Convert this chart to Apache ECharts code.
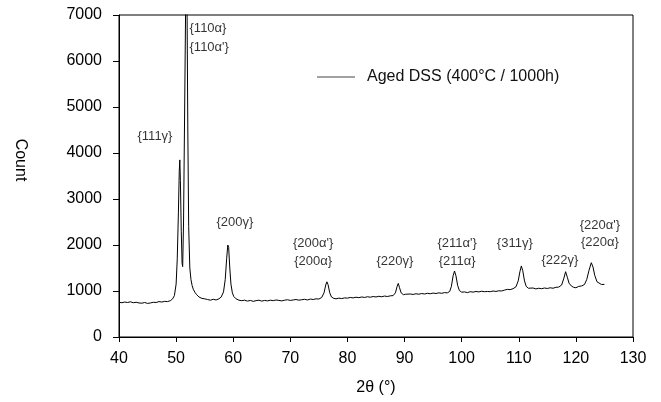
<!DOCTYPE html>
<html>
<head>
<meta charset="utf-8">
<script src="https://cdn.jsdelivr.net/npm/echarts@6/dist/echarts.min.js"></script>
<style>
html,body{margin:0;padding:0;background:#fff;}
#chart{width:661px;height:402px;}
</style>
</head>
<body>
<div id="chart"></div>
<script>
// 2θ (degrees)
var twoTheta = [
40.0,40.5,41.0,41.5,42.0,42.5,43.0,43.5,44.0,44.5,45.0,45.5,46.0,46.5,47.0,47.5,48.0,48.5,49.0,49.4,49.7,
50.0,50.2,50.4,50.55,50.65,50.75,50.9,51.05,51.15,51.3,51.5,51.7,51.8,51.9,52.05,52.2,52.4,52.6,52.8,53.0,53.3,53.6,54.0,54.5,
55.0,55.5,56.0,56.5,57.0,57.5,57.9,58.3,58.6,58.85,59.05,59.2,59.4,59.6,59.85,60.1,60.5,61.0,61.5,62.0,62.5,63.0,63.5,64.0,64.5,
65.0,65.5,66.0,66.5,67.0,67.5,68.0,68.5,69.0,69.5,70.0,70.5,71.0,71.5,72.0,72.5,73.0,73.5,74.0,74.5,75.0,75.5,75.9,76.2,76.4,76.6,76.9,
77.2,77.6,78.0,78.5,79.0,79.5,80.0,80.5,81.0,81.5,82.0,82.5,83.0,83.5,84.0,84.5,85.0,85.5,86.0,86.5,87.0,87.5,88.0,88.4,88.7,88.9,89.1,89.4,89.8,
90.2,90.5,91.0,91.5,92.0,92.5,93.0,93.5,94.0,94.5,95.0,95.5,96.0,96.5,97.0,97.5,97.9,98.2,98.5,98.75,99.0,99.3,99.6,
100.0,100.5,101.0,101.5,102.0,102.5,103.0,103.5,104.0,104.5,105.0,105.5,106.0,106.5,107.0,107.5,108.0,108.5,109.0,109.5,109.9,110.2,110.45,110.7,
111.0,111.3,111.7,112.0,112.5,113.0,113.5,114.0,114.5,115.0,115.5,116.0,116.5,117.0,117.5,117.9,118.2,118.5,118.8,119.2,119.6,
120.0,120.5,121.0,121.5,121.9,122.3,122.7,123.0,123.3,123.7,124.0,124.5,125.0
];
// Count
var counts = [
755,745,760,750,765,745,755,740,735,750,730,740,755,750,770,760,775,770,790,830,900,
1150,1700,2700,3600,3850,3400,2300,1600,1530,2500,5000,7600,8200,7500,4500,2400,1500,1250,1120,1040,970,920,870,840,
830,815,800,820,805,830,870,980,1250,1700,2000,1950,1500,1150,960,880,830,800,790,800,780,795,775,790,800,
780,795,785,800,790,805,795,785,800,810,795,805,815,800,810,820,805,825,815,830,825,860,960,1130,1200,1140,960,
870,840,830,845,835,850,845,860,850,865,855,870,860,875,865,880,870,885,875,890,880,895,900,960,1100,1165,1080,960,920,
930,915,935,925,940,930,945,935,950,940,955,945,960,950,965,960,990,1100,1330,1435,1330,1120,1010,
975,980,965,985,975,990,980,995,985,990,985,1000,990,1005,1000,1020,1035,1030,1050,1090,1220,1420,1545,1440,
1220,1100,1060,1050,1065,1045,1060,1050,1065,1055,1070,1060,1080,1085,1130,1280,1420,1300,1170,1110,1080,
1070,1100,1110,1140,1250,1450,1615,1520,1340,1200,1160,1140,1145
];
var xTicks = [40,50,60,70,80,90,100,110,120,130];
var yTicks = [0,1000,2000,3000,4000,5000,6000,7000];
var seriesName = 'Aged DSS (400°C / 1000h)';
// peak annotations: text, anchor 2θ, anchor count, alignment
var peakLabels = ['{111γ}','{110α}','{110α\'}','{200γ}','{200α\'}','{200α}','{220γ}','{211α\'}','{211α}','{311γ}','{222γ}','{220α\'}','{220α}'];
var peakLabelX = [46.3,52.35,52.35,60.3,74.0,74.0,88.3,99.2,99.2,109.3,117.2,124.2,124.2];
var peakLabelY = [4350,6710,6290,2480,2040,1650,1650,2040,1650,2040,1670,2430,2060];
var peakLabelAlign = ['center','left','left','center','center','center','center','center','center','center','center','center','center'];

var lineData = twoTheta.map(function(x,i){return [x,counts[i]];});
var annData = peakLabels.map(function(t,i){return {value:[peakLabelX[i],peakLabelY[i]],label:{formatter:t,align:peakLabelAlign[i]}};});

var chart = echarts.init(document.getElementById('chart'));
var font = '"Liberation Sans", Arial, sans-serif';
chart.setOption({
  animation:false,
  backgroundColor:'#fff',
  textStyle:{fontFamily:font,color:'#000'},
  grid:{left:119,top:15,right:28,bottom:65,show:true,borderColor:'#000',borderWidth:1},
  legend:{
    show:true,left:312,top:64,itemWidth:38,itemHeight:1,
    data:[{name:seriesName,icon:'rect'}],
    itemStyle:{color:'#444'},
    textStyle:{fontSize:16,fontFamily:font,color:'#111',padding:[0,0,0,7]}
  },
  xAxis:{
    type:'value',min:40,max:130,interval:10,
    name:'2θ (°)',nameLocation:'middle',nameGap:43,
    nameTextStyle:{fontSize:16,fontFamily:font,color:'#000'},
    axisLine:{show:true,onZero:false,lineStyle:{color:'#000',width:1}},
    axisTick:{show:true,length:5,inside:false,lineStyle:{color:'#000'}},
    axisLabel:{fontSize:16,color:'#000',margin:14,fontFamily:font,formatter:function(v){return String(v);}},
    splitLine:{show:false}
  },
  yAxis:{
    type:'value',min:0,max:7000,interval:1000,
    axisLine:{show:true,lineStyle:{color:'#000',width:1}},
    axisTick:{show:true,length:6,inside:false,lineStyle:{color:'#000'}},
    axisLabel:{fontSize:16,color:'#000',margin:17,fontFamily:font,formatter:function(v){return String(v);}},
    splitLine:{show:false}
  },
  graphic:[{
    type:'text',x:20,y:160,rotation:-Math.PI/2,
    style:{text:'Count',fontSize:16,fontFamily:font,fill:'#000',align:'center',verticalAlign:'middle'}
  }],
  series:[{
    name:seriesName,type:'line',data:lineData,symbol:'none',clip:true,
    lineStyle:{color:'#000',width:1},itemStyle:{color:'#000'}
  },{
    type:'scatter',data:annData,symbolSize:0,silent:true,
    label:{show:true,position:'inside',fontSize:13,fontFamily:font,color:'#000',verticalAlign:'middle'},
    itemStyle:{color:'transparent'}
  }]
});
</script>
</body>
</html>
